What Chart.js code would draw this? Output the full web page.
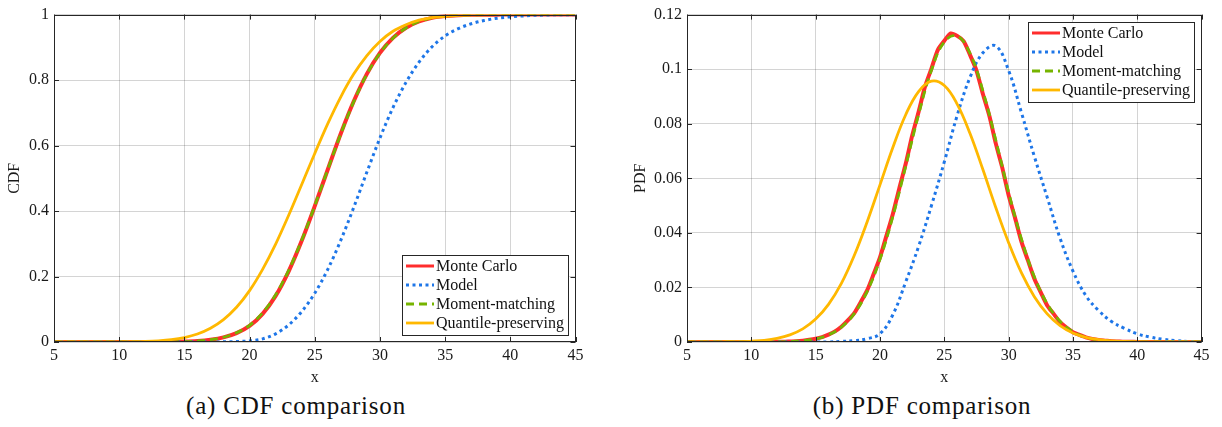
<!DOCTYPE html>
<html>
<head>
<meta charset="utf-8">
<script src="https://cdn.jsdelivr.net/npm/chart.js@4.4.1/dist/chart.umd.min.js"></script>
<style>
  html, body { margin: 0; padding: 0; background: #fff; }
  body { width: 1222px; height: 427px; position: relative; overflow: hidden; }
  .panel { position: absolute; top: 0; height: 390px; }
  #cdfBox { left: 0; width: 590px; }
  #pdfBox { left: 620px; width: 600px; }
  .caption { position: absolute; top: 392px; font-family: 'Liberation Serif', serif; font-size: 25px; line-height: 1.15;
    letter-spacing: 0.8px; color: #111; transform: translateX(-50%); white-space: nowrap; }
</style>
</head>
<body>
<div class="panel" id="cdfBox"><canvas id="cdfChart"></canvas></div>
<div class="panel" id="pdfBox"><canvas id="pdfChart"></canvas></div>
<div class="caption" style="left:296px">(a) CDF comparison</div>
<div class="caption" style="left:922px">(b) PDF comparison</div>
<script>
// values
const seriesNames = ['Monte Carlo', 'Model', 'Moment-matching', 'Quantile-preserving'];

const xGrid = [5, 6, 7, 8, 9, 10, 11, 12, 13, 14, 15, 16, 17, 18, 19, 20, 21, 22, 23, 24, 25,
  26, 27, 28, 29, 30, 31, 32, 33, 34, 35, 36, 37, 38, 39, 40, 41, 42, 43, 44, 45];

const cdfMonteCarlo = [0, 0, 0, 0, 0, 0, 0, 0,
  0.0002, 0.0005, 0.0012, 0.003, 0.0068, 0.014, 0.027, 0.049,
  0.086, 0.141, 0.216, 0.309, 0.415, 0.527, 0.637, 0.736,
  0.819, 0.883, 0.929, 0.960, 0.979, 0.990, 0.9954, 0.998,
  0.9992, 0.9997, 0.9999, 1, 1, 1, 1, 1, 1];
const cdfModel = [0, 0, 0, 0, 0, 0, 0, 0,
  0, 0, 0, 0, 0.0001, 0.0005, 0.0013, 0.0034,
  0.0095, 0.025, 0.052, 0.093, 0.149, 0.222, 0.311, 0.412,
  0.519, 0.623, 0.716, 0.793, 0.855, 0.902, 0.935, 0.957,
  0.972, 0.982, 0.989, 0.993, 0.996, 0.998, 0.999, 0.9995, 1];
const cdfMoment = [0, 0, 0, 0, 0, 0, 0, 0,
  0.0002, 0.0005, 0.0012, 0.0031, 0.007, 0.0145, 0.028, 0.051,
  0.089, 0.144, 0.219, 0.311, 0.416, 0.527, 0.636, 0.735,
  0.818, 0.882, 0.928, 0.959, 0.979, 0.990, 0.9954, 0.998,
  0.9992, 0.9997, 0.9999, 1, 1, 1, 1, 1, 1];
const cdfQuantile = [0, 0, 0, 0.0001, 0.0001, 0.0003, 0.0008, 0.0017,
  0.0036, 0.0072, 0.0137, 0.0246, 0.0421, 0.0685, 0.106, 0.157,
  0.222, 0.299, 0.387, 0.481, 0.576, 0.667, 0.749, 0.819,
  0.875, 0.918, 0.949, 0.969, 0.983, 0.991, 0.995, 0.998,
  0.999, 0.9995, 0.9998, 0.9999, 1, 1, 1, 1, 1];

// Monte Carlo histogram is noisy, so it gets a finer grid
const mcX = [5, 10, 10.5, 11, 11.5, 12, 12.5, 13, 13.5, 14, 14.5, 15, 15.5, 16, 16.5, 17, 17.5,
  18, 18.5, 19, 19.5, 20, 20.5, 21, 21.5, 22, 22.5, 23, 23.5, 24, 24.5, 25, 25.5, 26, 26.5,
  27, 27.5, 28, 28.5, 29, 29.5, 30, 30.5, 31, 31.5, 32, 32.5, 33, 33.5, 34, 34.5, 35, 35.5,
  36, 36.5, 37, 37.5, 38, 38.5, 39, 39.5, 40, 45];
const pdfMonteCarlo = [0, 0, 0, 0, 0.0001, 0.0001, 0.0001, 0.0002, 0.0003, 0.0005, 0.0008,
  0.0012, 0.0018, 0.0027, 0.0039, 0.0056, 0.0079, 0.0106, 0.0146, 0.0189, 0.0248, 0.0310,
  0.0389, 0.0469, 0.0563, 0.0653, 0.0756, 0.0843, 0.0936, 0.1002, 0.1071, 0.1104, 0.1131,
  0.1122, 0.1103, 0.1052, 0.0995, 0.0909, 0.0829, 0.0728, 0.0640, 0.0538, 0.0455, 0.0367,
  0.0299, 0.0232, 0.0182, 0.0134, 0.0103, 0.0073, 0.0053, 0.0036, 0.0026, 0.0017, 0.0011,
  0.0007, 0.0005, 0.0003, 0.0002, 0.0001, 0.0001, 0, 0];
const pdfModel = [0, 0, 0, 0, 0, 0, 0, 0,
  0, 0, 0, 0, 0.0002, 0.0005, 0.0012, 0.003,
  0.010, 0.022, 0.035, 0.050, 0.066, 0.083, 0.097, 0.106,
  0.1085, 0.0995, 0.084, 0.068, 0.053, 0.038, 0.026, 0.017,
  0.0115, 0.0075, 0.005, 0.003, 0.0018, 0.001, 0.0005, 0.0002, 0.0001];
const pdfMoment = [0, 0, 0, 0, 0, 0, 0, 0,
  0.0002, 0.0005, 0.0011, 0.0026, 0.0054, 0.0104, 0.0185, 0.0303,
  0.046, 0.0644, 0.0833, 0.0996, 0.110, 0.1122, 0.1058, 0.092,
  0.074, 0.0549, 0.0377, 0.0239, 0.014, 0.0076, 0.0038, 0.0017,
  0.0007, 0.0003, 0.0001, 0, 0, 0, 0, 0, 0];
const pdfQuantile = [0, 0, 0, 0.0001, 0.0001, 0.0003, 0.0006, 0.0013,
  0.0026, 0.0048, 0.0084, 0.0138, 0.0215, 0.0317, 0.044, 0.0576,
  0.0713, 0.0833, 0.0918, 0.0956, 0.094, 0.0872, 0.0764, 0.0632,
  0.0493, 0.0364, 0.0253, 0.0166, 0.0103, 0.006, 0.0033, 0.0017,
  0.0009, 0.0004, 0.0002, 0.0001, 0, 0, 0, 0, 0];

const serif = 'Liberation Serif';
const lineStyles = [
  { color: 'rgb(255,45,45)', width: 4, dash: [], order: 4 },
  { color: 'rgb(30,118,232)', width: 3, dash: [3, 3.5], order: 3 },
  { color: 'rgb(118,180,0)', width: 2.8, dash: [8, 5], order: 2 },
  { color: 'rgb(255,184,0)', width: 2.8, dash: [], order: 1 }
];

function pts(xs, ys) {
  return xs.map((x, i) => ({ x: x, y: ys[i] }));
}

function makeSets(list, pdf) {
  return list.map((d, i) => {
    const st = lineStyles[i];
    return {
      label: seriesNames[i],
      data: pts(d[0], d[1]),
      borderColor: st.color,
      borderWidth: st.width,
      borderDash: st.dash,
      order: st.order,
      pointRadius: 0,
      fill: false,
      tension: pdf ? (i === 0 ? 0.25 : 0.4) : 0.4,
      cubicInterpolationMode: pdf ? 'default' : 'monotone'
    };
  });
}

// legend box inside the axes, like the MATLAB one
const boxLegend = {
  id: 'boxLegend',
  afterDatasetsDraw(chart, args, opts) {
    const { ctx, chartArea: a } = chart;
    const sets = chart.data.datasets;
    ctx.save();
    ctx.font = '16px "' + serif + '"';
    const textW = Math.max(...sets.map(d => ctx.measureText(d.label).width));
    const w = Math.round(textW + 38), h = sets.length * 19 + 4;
    const left = Math.round(a.right - 8 - w);
    const top = Math.round(opts.corner === 'ne' ? a.top + 7 : a.bottom - 7 - h);
    ctx.fillStyle = '#fff';
    ctx.fillRect(left, top, w, h);
    ctx.strokeStyle = '#262626';
    ctx.lineWidth = 1;
    ctx.strokeRect(left + 0.5, top + 0.5, w, h);
    sets.forEach((d, i) => {
      const cy = top + 11 + i * 19;
      ctx.beginPath();
      ctx.setLineDash(d.borderDash || []);
      ctx.strokeStyle = d.borderColor;
      ctx.lineWidth = Math.min(d.borderWidth, 3);
      ctx.moveTo(left + 4, cy);
      ctx.lineTo(left + 32, cy);
      ctx.stroke();
      ctx.setLineDash([]);
      ctx.fillStyle = '#111';
      ctx.textBaseline = 'middle';
      ctx.fillText(d.label, left + 34, cy + 1);
    });
    ctx.restore();
  }
};

// box around the axes with inward ticks on all four sides
const frame = {
  id: 'frame',
  afterDraw(chart) {
    const { ctx, chartArea: a, scales: { x, y } } = chart;
    ctx.save();
    ctx.strokeStyle = '#262626';
    ctx.lineWidth = 1;
    ctx.beginPath();
    x.ticks.forEach(t => {
      const px = Math.round(x.getPixelForValue(t.value)) + 0.5;
      ctx.moveTo(px, a.bottom); ctx.lineTo(px, a.bottom - 5);
      ctx.moveTo(px, a.top); ctx.lineTo(px, a.top + 5);
    });
    y.ticks.forEach(t => {
      const py = Math.round(y.getPixelForValue(t.value)) + 0.5;
      ctx.moveTo(a.left, py); ctx.lineTo(a.left + 5, py);
      ctx.moveTo(a.right, py); ctx.lineTo(a.right - 5, py);
    });
    ctx.stroke();
    ctx.strokeRect(Math.round(a.left) + 0.5, Math.round(a.top) + 0.5,
      Math.round(a.right - a.left) - 1, Math.round(a.bottom - a.top) - 1);
    ctx.restore();
  }
};

function makeChart(el, datasets, o) {
  const font = { family: serif, size: 16 };
  const gridColor = 'rgba(0,0,0,0.17)';
  return new Chart(el, {
    type: 'line',
    data: { datasets: datasets },
    options: {
      responsive: true,
      maintainAspectRatio: false,
      animation: false,
      layout: { padding: { top: 14.5, right: o.padRight, left: 0, bottom: 0 } },
      plugins: {
        legend: { display: false },
        tooltip: { enabled: false },
        boxLegend: { corner: o.corner }
      },
      scales: {
        x: {
          type: 'linear', min: 5, max: 45,
          ticks: { stepSize: 5, padding: 4, font: font, color: '#1a1a1a', maxRotation: 0 },
          grid: { color: gridColor, drawTicks: false },
          border: { display: false },
          title: { display: true, text: 'x', font: font, color: '#1a1a1a', padding: { top: 0, bottom: 2.4 } },
          afterFit: s => { s.height = 48; }
        },
        y: {
          type: 'linear', min: 0, max: o.yMax,
          ticks: { stepSize: o.yStep, padding: 5, font: font, color: '#1a1a1a',
            callback: v => String(+v.toFixed(4)) },
          grid: { color: gridColor, drawTicks: false },
          border: { display: false },
          title: { display: true, text: o.yTitle, font: font, color: '#1a1a1a', padding: { top: o.titlePad, bottom: 0 } },
          afterFit: s => { s.width = o.yWidth; }
        }
      }
    },
    plugins: [boxLegend, frame]
  });
}

makeChart(document.getElementById('cdfChart'), makeSets([
  [xGrid, cdfMonteCarlo], [xGrid, cdfModel], [xGrid, cdfMoment], [xGrid, cdfQuantile]
], false), { yMax: 1, yStep: 0.2, yTitle: 'CDF', yWidth: 54, titlePad: 5.4, padRight: 14.5, corner: 'se' });

makeChart(document.getElementById('pdfChart'), makeSets([
  [mcX, pdfMonteCarlo], [xGrid, pdfModel], [xGrid, pdfMoment], [xGrid, pdfQuantile]
], true), { yMax: 0.12, yStep: 0.02, yTitle: 'PDF', yWidth: 67, titlePad: 11, padRight: 18.4, corner: 'ne' });
</script>
</body>
</html>
